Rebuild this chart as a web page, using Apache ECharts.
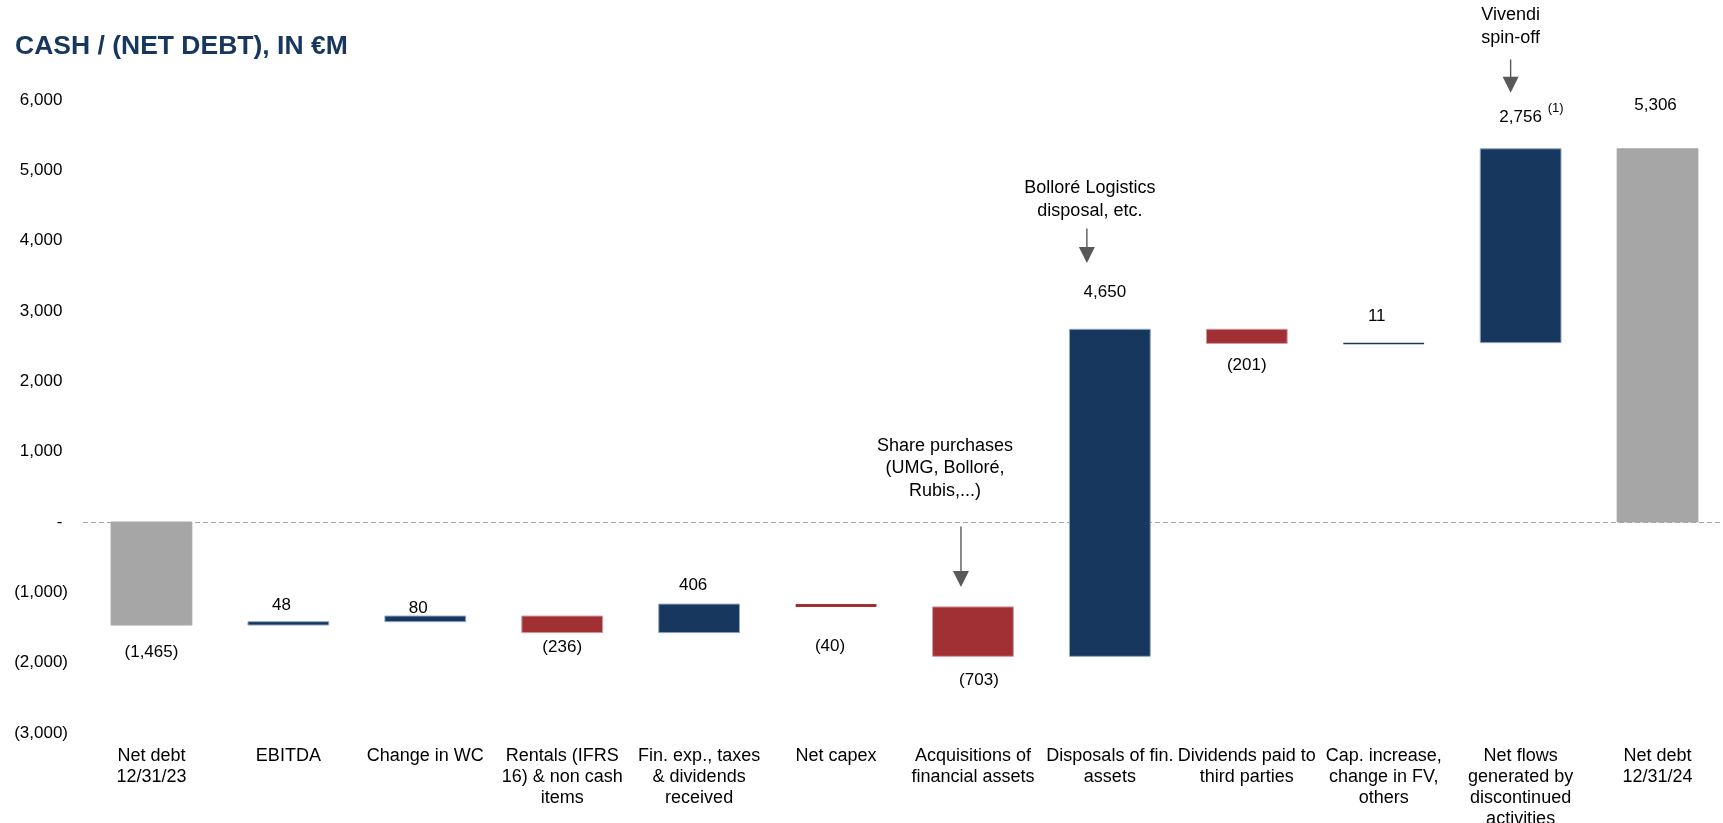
<!DOCTYPE html>
<html>
<head>
<meta charset="utf-8">
<script src="https://cdn.jsdelivr.net/npm/echarts@6/dist/echarts.min.js"></script>
<style>
  html, body { margin: 0; padding: 0; background: #fff; }
  #chart { width: 1723px; height: 823px; }
</style>
</head>
<body>
<div id="chart"></div>
<script>
// ---------------- DATA ----------------
const categories = [
  'Net debt\n12/31/23',
  'EBITDA',
  'Change in WC',
  'Rentals (IFRS\n16) & non cash\nitems',
  'Fin. exp., taxes\n& dividends\nreceived',
  'Net capex',
  'Acquisitions of\nfinancial assets',
  'Disposals of fin.\nassets',
  'Dividends paid to\nthird parties',
  'Cap. increase,\nchange in FV,\nothers',
  'Net flows\ngenerated by\ndiscontinued\nactivities',
  'Net debt\n12/31/24'
];
const values = [-1465, 48, 80, -236, 406, -40, -703, 4650, -201, 11, 2756, 5306];
const kinds = ['total', 'delta', 'delta', 'delta', 'delta', 'delta', 'delta', 'delta', 'delta', 'delta', 'delta', 'total'];
const valueLabels = ['(1,465)', '48', '80', '(236)', '406', '(40)', '(703)', '4,650', '(201)', '11', '2,756', '5,306'];
const yTickLabels = ['(3,000)', '(2,000)', '(1,000)', '-', '1,000', '2,000', '3,000', '4,000', '5,000', '6,000'];
const yMin = -3000, yMax = 6000, yStep = 1000;
const annotationTexts = ['Share purchases\n(UMG, Bolloré,\nRubis,...)', 'Bolloré Logistics\ndisposal, etc.', 'Vivendi\nspin-off'];
const annotationCats = [6, 7, 10];
const footnoteMark = '(1)';

// ---------------- LAYOUT / STYLE ----------------
const COLORS = { up: '#17375E', down: '#A13035', total: '#A6A6A6' };
const EDGES = { up: '#8FA6C4', down: '#D39A9D', total: '#A6A6A6' };
const FONT = '"Liberation Sans", Arial, sans-serif';
// label center offset from bar edge (px), and x offset
const labelDy = [27, -16, -8, 15, -19, 39, 24, -37, 22, -26, -31, -43];
const labelDx = [0, -7, -7, 0, -6, -6, 6, -5, 0, -7, 0, -2];
// annotation layout: arrow x offset, arrow top & tip (in axis units), text offsets (px, first line centre relative to arrow top)
const ANN_LH = 22.5;
const annLayout = [
  { dx: -12, top: -65, tip: -925, tdx: -16, tdy: -81 },
  { dx: -23, top: 4174, tip: 3684, tdx: 3, tdy: -40 },
  { dx: -10, top: 6577, tip: 6102, tdx: 0, tdy: -44 }
];

// build floating ranges
const bars = [];
let running = 0;
values.forEach((v, i) => {
  let lo, hi;
  if (kinds[i] === 'total') { lo = 0; hi = v; running = v; }
  else { lo = running; hi = running + v; running = hi; }
  bars.push([i, lo, hi]);
});

const chart = echarts.init(document.getElementById('chart'), null, { renderer: 'canvas' });

function renderBar(params, api) {
  const i = api.value(0);
  const lo = api.value(1), hi = api.value(2);
  const pLo = api.coord([i, lo]);
  const pHi = api.coord([i, hi]);
  const bw = api.size([1, 0])[0] * 0.59;
  const y1 = Math.min(pLo[1], pHi[1]);
  const y2 = Math.max(pLo[1], pHi[1]);
  const h = Math.max(y2 - y1, 1.5);
  const cx = pLo[0];
  const kind = kinds[i] === 'total' ? 'total' : (values[i] >= 0 ? 'up' : 'down');
  const up = values[i] >= 0;
  const edgeY = up ? y1 : y2;
  const children = [
    {
      type: 'rect',
      shape: { x: cx - bw / 2, y: y1, width: bw, height: h },
      style: { fill: COLORS[kind], stroke: EDGES[kind], lineWidth: h > 3 ? 1 : 0 }
    },
    {
      type: 'text',
      x: cx + labelDx[i], y: edgeY + labelDy[i],
      style: {
        text: valueLabels[i], fill: '#000', fontSize: 17, fontFamily: FONT,
        align: 'center', verticalAlign: 'middle'
      }
    }
  ];
  if (i === 10) {
    children.push({
      type: 'text',
      x: cx + 35, y: edgeY + labelDy[i] - 9.5,
      style: {
        text: footnoteMark, fill: '#000', fontSize: 13, fontFamily: FONT,
        align: 'center', verticalAlign: 'middle'
      }
    });
  }
  return { type: 'group', children };
}

function renderAnn(params, api) {
  const j = params.dataIndex;
  const L = annLayout[j];
  const cat = annotationCats[j];
  const ax = api.coord([cat, 0])[0] + L.dx;
  const topY = api.coord([cat, L.top])[1];
  const tipY = api.coord([cat, L.tip])[1];
  const headH = 16, headW = 16;
  const col = '#595959';
  return {
    type: 'group',
    children: [
      { type: 'line', shape: { x1: ax, y1: topY, x2: ax, y2: tipY - headH + 1 }, style: { stroke: col, lineWidth: 1.4 } },
      { type: 'polygon', shape: { points: [[ax - headW / 2, tipY - headH], [ax + headW / 2, tipY - headH], [ax, tipY]] }, style: { fill: col } },
      {
        type: 'text', x: ax + L.tdx, y: topY + L.tdy - ANN_LH / 2,
        style: {
          text: annotationTexts[j], fill: '#000', fontSize: 18, fontFamily: FONT,
          align: 'center', verticalAlign: 'top', lineHeight: ANN_LH
        }
      }
    ]
  };
}

const option = {
  animation: false,
  backgroundColor: '#fff',
  title: {
    text: 'CASH / (NET DEBT), IN €M',
    left: 10, top: 28,
    textStyle: { color: '#17375E', fontSize: 26.5, fontWeight: 'bold', fontFamily: FONT }
  },
  grid: { left: 83, top: 100, width: 1643, height: 633, containLabel: false, outerBoundsMode: 'none' },
  xAxis: {
    type: 'category',
    data: categories,
    axisLine: { show: false },
    axisTick: { show: false },
    splitLine: { show: false },
    axisLabel: {
      interval: 0, margin: 13, color: '#000', fontSize: 18, lineHeight: 21,
      fontFamily: FONT, align: 'center', verticalAlign: 'top'
    }
  },
  yAxis: {
    type: 'value',
    min: yMin, max: yMax, interval: yStep,
    axisLine: { show: false },
    axisTick: { show: false },
    splitLine: { show: false },
    axisLabel: {
      margin: 15, color: '#000', fontSize: 17, fontFamily: FONT,
      formatter: function (v) {
        const lbl = yTickLabels[Math.round((v - yMin) / yStep)];
        return v >= 0 ? lbl + '{h|)}' : lbl;
      },
      rich: { h: { color: 'rgba(0,0,0,0)', fontSize: 17, fontFamily: FONT } }
    }
  },
  series: [
    {
      type: 'custom',
      name: 'bars',
      renderItem: renderBar,
      encode: { x: 0, y: [1, 2] },
      data: bars,
      clip: false,
      z: 3,
      markLine: {
        silent: true,
        symbol: 'none',
        label: { show: false },
        lineStyle: { color: '#A6A6A6', type: [5, 3], width: 1 },
        data: [{ yAxis: 0 }],
        z: 1
      }
    },
    {
      type: 'custom',
      name: 'annotations',
      renderItem: renderAnn,
      encode: { x: 0, y: 1 },
      data: annotationCats.map((c, j) => [c, annLayout[j].tip]),
      clip: false,
      z: 4
    }
  ]
};
chart.setOption(option);
</script>
</body>
</html>
